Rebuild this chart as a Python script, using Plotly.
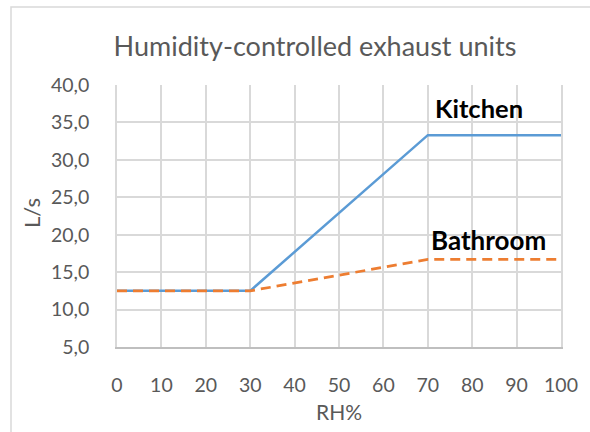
import plotly.graph_objects as go

rh = [0, 30, 70, 100]
kitchen = [12.5, 12.5, 33.3, 33.3]
bathroom = [12.5, 12.5, 16.7, 16.7]
x_ticks = [0, 10, 20, 30, 40, 50, 60, 70, 80, 90, 100]
y_ticks = [5, 10, 15, 20, 25, 30, 35, 40]

FONT = "Lato, Open Sans, sans-serif"
GREY = "#595959"
GRID = "#d9d9d9"

# plot-area pixel geometry
L, R, T, B = 117, 561, 85, 347
PW, PH = R - L, B - T


def px(x):
    return (x - L) / PW


def py(y):
    return (B - y) / PH


fig = go.Figure()
fig.add_trace(go.Scatter(x=rh, y=kitchen, mode="lines", name="Kitchen",
                         line=dict(color="#5B9BD5", width=2.5)))
fig.add_trace(go.Scatter(x=rh, y=bathroom, mode="lines", name="Bathroom",
                         line=dict(color="#ED7D31", width=2.75, dash="10px,6px")))

ann = dict(xref="paper", yref="paper", showarrow=False, xanchor="center", yanchor="middle")
fig.add_annotation(x=px(479), y=py(107.5), text="<b>Kitchen</b>",
                   font=dict(family=FONT, size=25.5, color="black"), **ann)
fig.add_annotation(x=px(488), y=py(240), text="<b>Bathroom</b>",
                   font=dict(family=FONT, size=26, color="black"), **ann)

# axis titles
fig.add_annotation(x=px(31), y=py(213), text="L/s", textangle=-90,
                   font=dict(family=FONT, size=22, color=GREY), **ann)
fig.add_annotation(x=px(339), y=py(411), text="RH%",
                   font=dict(family=FONT, size=21, color=GREY), **ann)

# outer chart border
fig.add_shape(type="rect", xref="paper", yref="paper",
              x0=px(11), x1=px(640), y0=py(470), y1=py(7),
              line=dict(color=GRID, width=1.5), fillcolor="rgba(0,0,0,0)", layer="below")

fig.update_layout(
    width=590, height=432,
    margin=dict(l=L, r=590 - R, t=T, b=432 - B),
    paper_bgcolor="white", plot_bgcolor="white",
    showlegend=False,
    separators=",.",
    title=dict(text="Humidity-controlled exhaust units", x=315 / 590, xanchor="center",
               y=1 - 47 / 432, yanchor="middle",
               font=dict(family=FONT, size=27, color=GREY)),
    font=dict(family=FONT, size=19.5, color=GREY),
)
fig.update_xaxes(range=[0, 100], tickvals=x_ticks, showgrid=True, gridcolor=GRID, gridwidth=1.5,
                 zeroline=False, showline=True, linecolor="#bfbfbf", linewidth=1.5,
                 ticks="", ticklabelstandoff=20,
                 tickfont=dict(family=FONT, size=19.5, color=GREY))
fig.update_yaxes(range=[5, 40], tickvals=y_ticks, tickformat=".1f", showgrid=True, gridcolor=GRID,
                 gridwidth=1.5, zeroline=False, showline=True, linecolor=GRID, linewidth=1.5,
                 mirror=True, ticks="", ticklabelstandoff=22,
                 tickfont=dict(family=FONT, size=19.5, color=GREY))

fig.write_html("out.html", config={"displayModeBar": False},
               post_script="document.body.style.margin='0px';")
